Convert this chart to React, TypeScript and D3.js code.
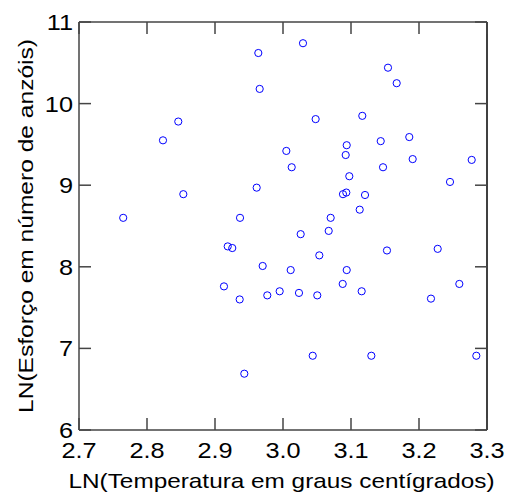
import React from "react";
import * as d3 from "d3";

const temperatureLn: number[] = [
  2.846, 2.8235, 2.8534, 2.765, 3.0294, 2.9637, 2.9657, 3.048, 3.0937, 3.0049,
  3.0922, 3.0128, 3.0975, 2.9613, 3.0882, 3.0931, 2.9368, 3.0701, 3.1544, 3.1672,
  3.1166, 3.1857, 3.1437, 3.1907, 3.2775, 3.1471, 3.2456, 3.1206, 3.1128, 3.026,
  3.0672, 2.9187, 2.9254, 3.0534, 2.9701, 3.0113, 3.0937, 2.9132, 3.0878, 2.9363,
  2.9769, 2.9951, 3.0235, 3.0504, 3.0437, 2.9431, 3.1529, 3.2275, 3.1157, 3.2593,
  3.2176, 3.1299, 3.2843,
];
const effortLn: number[] = [
  9.78, 9.55, 8.89, 8.6, 10.74, 10.62, 10.18, 9.81, 9.49, 9.42,
  9.37, 9.22, 9.11, 8.97, 8.89, 8.91, 8.6, 8.6, 10.44, 10.25,
  9.85, 9.59, 9.54, 9.32, 9.31, 9.22, 9.04, 8.88, 8.7, 8.4,
  8.44, 8.25, 8.23, 8.14, 8.01, 7.96, 7.96, 7.76, 7.79, 7.6,
  7.65, 7.7, 7.68, 7.65, 6.91, 6.69, 8.2, 8.22, 7.7, 7.79,
  7.61, 6.91, 6.91,
];
const xTicks: number[] = [2.7, 2.8, 2.9, 3.0, 3.1, 3.2, 3.3];
const yTicks: number[] = [6, 7, 8, 9, 10, 11];
const xTitle = "LN(Temperatura em graus centígrados)";
const yTitle = "LN(Esforço em número de anzóis)";

const W = 505;
const H = 494;
const L = 79;
const R = 487;
const T = 22;
const B = 430;
const TICK = 12;
const FONT = "Liberation Sans, Arial, Helvetica, sans-serif";
const STRETCH = 1.15;

export default function App() {
  const x = d3.scaleLinear().domain([2.7, 3.3]).range([L, R]);
  const y = d3.scaleLinear().domain([6, 11]).range([B, T]);
  const frame = "#444";
  return (
    <svg
      width={W}
      height={H}
      style={{ position: "absolute", left: 0, top: 0, background: "#fff" }}
      fontFamily={FONT}
    >
      <rect x={0} y={0} width={W} height={H} fill="#fff" />
      <line x1={L} x2={R} y1={T} y2={T} stroke={frame} strokeWidth={1.5} />
      <line x1={L} x2={R} y1={B} y2={B} stroke={frame} strokeWidth={1.5} />
      <line x1={L} x2={L} y1={T} y2={B} stroke={frame} strokeWidth={1.5} />
      <line x1={R} x2={R} y1={T} y2={B} stroke="#000" strokeWidth={1.5} />
      {xTicks.map((t) => (
        <g key={"x" + t}>
          <line x1={x(t)} x2={x(t)} y1={B} y2={B - TICK} stroke={frame} strokeWidth={1.5} />
          <line x1={x(t)} x2={x(t)} y1={T} y2={T + TICK} stroke={frame} strokeWidth={1.5} />
          <text
            transform={`translate(${x(t)}, 458) scale(${STRETCH}, 1)`}
            textAnchor="middle"
            fontSize={22}
            fill="#000"
          >
            {t.toFixed(1)}
          </text>
        </g>
      ))}
      {yTicks.map((t) => (
        <g key={"y" + t}>
          <line x1={L} x2={L + TICK} y1={y(t)} y2={y(t)} stroke={frame} strokeWidth={1.5} />
          <line x1={R} x2={R - TICK} y1={y(t)} y2={y(t)} stroke={frame} strokeWidth={1.5} />
          <text
            transform={`translate(73, ${y(t)}) scale(${STRETCH}, 1)`}
            dy="0.36em"
            textAnchor="end"
            fontSize={22}
            fill="#000"
          >
            {t}
          </text>
        </g>
      ))}
      {temperatureLn.map((v, i) => (
        <circle
          key={i}
          cx={x(v)}
          cy={y(effortLn[i])}
          r={3.6}
          fill="none"
          stroke="#0000ff"
          strokeWidth={1}
        />
      ))}
      <text
        x={281.5}
        y={488}
        textAnchor="middle"
        fontSize={21}
        fill="#000"
        textLength={426}
        lengthAdjust="spacingAndGlyphs"
      >
        {xTitle}
      </text>
      <text
        transform={`translate(33, ${(T + B) / 2}) rotate(-90)`}
        textAnchor="middle"
        fontSize={21}
        fill="#000"
        textLength={374}
        lengthAdjust="spacingAndGlyphs"
      >
        {yTitle}
      </text>
    </svg>
  );
}
